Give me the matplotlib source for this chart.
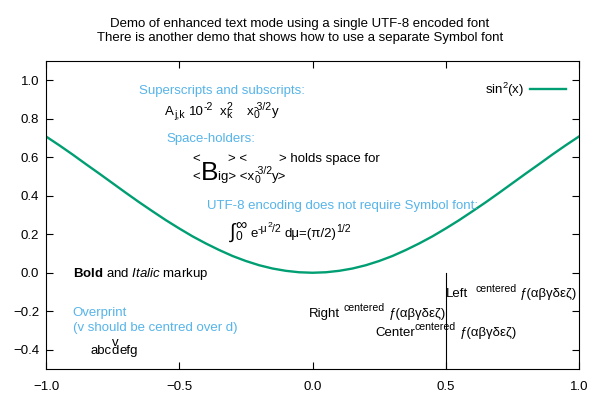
import matplotlib
matplotlib.use("Agg")
import matplotlib.pyplot as plt
from matplotlib.transforms import ScaledTranslation

plt.rcParams['font.family'] = ['Liberation Sans', 'DejaVu Sans']
plt.rcParams['mathtext.fontset'] = 'custom'
plt.rcParams['mathtext.rm'] = 'Liberation Sans'
plt.rcParams['mathtext.it'] = 'Liberation Sans:italic'
plt.rcParams['mathtext.bf'] = 'Liberation Sans:bold'
plt.rcParams['mathtext.default'] = 'regular'

# ---- data ----
x_vals = [-1.0, -0.95, -0.9, -0.85, -0.8, -0.75, -0.7, -0.65, -0.6, -0.55, -0.5,
          -0.45, -0.4, -0.35, -0.3, -0.25, -0.2, -0.15, -0.1, -0.05, 0.0,
          0.05, 0.1, 0.15, 0.2, 0.25, 0.3, 0.35, 0.4, 0.45, 0.5,
          0.55, 0.6, 0.65, 0.7, 0.75, 0.8, 0.85, 0.9, 0.95, 1.0]
y_vals = [0.708, 0.662, 0.614, 0.564, 0.515, 0.465, 0.415, 0.366, 0.319, 0.273, 0.230,
          0.189, 0.152, 0.118, 0.087, 0.061, 0.039, 0.022, 0.010, 0.0025, 0.0,
          0.0025, 0.010, 0.022, 0.039, 0.061, 0.087, 0.118, 0.152, 0.189, 0.230,
          0.273, 0.319, 0.366, 0.415, 0.465, 0.515, 0.564, 0.614, 0.662, 0.708]
series_label = "sin$^{2}$(x)"
x_ticks = [-1.0, -0.5, 0.0, 0.5, 1.0]
y_ticks = [-0.4, -0.2, 0.0, 0.2, 0.4, 0.6, 0.8, 1.0]
title_text = ("Demo of enhanced text mode using a single UTF-8 encoded font\n"
              "There is another demo that shows how to use a separate Symbol font")
greek = "\u0192(\u03b1\u03b2\u03b3\u03b4\u03b5\u03b6)"

BLUE = '#56b4e9'
GREEN = '#009e73'
FS = 9.5
DPI = 100
EM = FS * DPI / 72.0  # px per em
SUP = 0.42   # superscript raise (em of base)
SUB = -0.2   # subscript drop (em of base)
S8 = 0.8

fig = plt.figure(figsize=(6, 4), dpi=DPI)
ax = fig.add_axes([46/600, 31/400, 533/600, 308/400])
ax.plot(x_vals, y_vals, color=GREEN, lw=1.7, label=series_label)
ax.set_xlim(-1, 1)
ax.set_ylim(-0.5, 1.1)
ax.set_xticks(x_ticks)
ax.set_yticks(y_ticks)
ax.tick_params(direction='in', length=5, width=0.8, top=True, right=True,
               labelsize=FS)
ax.tick_params(axis='y', pad=5)
ax.tick_params(axis='x', pad=8.5)
for s in ax.spines.values():
    s.set_linewidth(0.8)

ax.legend(loc='upper right', frameon=False, markerfirst=False,
          fontsize=FS, handlelength=2.75, handletextpad=0.45,
          borderaxespad=0.5, bbox_to_anchor=(0.998, 0.975))

fig.text(0.5, 1 - 41/400, title_text, ha='center', va='baseline',
         fontsize=FS, linespacing=1.25, multialignment='center')

renderer = fig.canvas.get_renderer()


def width_px(s, scale=1.0, **kw):
    t = fig.text(0, 0, s, fontsize=FS * scale, **kw)
    w = t.get_window_extent(renderer).width
    t.remove()
    return w


SPW = width_px("x x") - width_px("xx")   # width of one space


def rich(x, y, tokens, color='black', ha='left'):
    """tokens: ('t', s, scale, dy_em) text; ('o', [(s, scale, dy_em)]) overprint;
    ('p', [(s, scale)]) phantom (overprint max); ('g', n) n spaces;
    ('v', s, top, dy_em) top centred over s."""
    items = []
    pos = 0.0
    for tok in tokens:
        kind = tok[0]
        if kind == 't':
            s = tok[1]
            sc = tok[2] if len(tok) > 2 else 1.0
            dy = tok[3] if len(tok) > 3 else 0.0
            items.append((pos, dy * EM, s, sc))
            pos += width_px(s, sc)
        elif kind == 'o':
            wmax = 0
            for s, sc, dy in tok[1]:
                items.append((pos, dy * EM, s, sc))
                wmax = max(wmax, width_px(s, sc))
            pos += wmax
        elif kind == 'p':
            pos += max(width_px(s, sc) for s, sc in tok[1])
        elif kind == 'g':
            pos += tok[1] * SPW
        elif kind == 'v':
            s, top, dy = tok[1], tok[2], tok[3]
            w = width_px(s)
            wt = width_px(top)
            items.append((pos, 0.0, s, 1.0))
            items.append((pos + (w - wt) / 2, dy * EM, top, 1.0))
            pos += w
    shift = {'left': 0.0, 'right': -pos, 'center': -pos / 2}[ha]
    for dx, dy, s, sc in items:
        tr = ax.transData + ScaledTranslation((dx + shift) / DPI, dy / DPI,
                                              fig.dpi_scale_trans)
        ax.text(x, y, s, transform=tr, fontsize=FS * sc, color=color,
                ha='left', va='baseline')


def txt(x, y, s, **kw):
    kw.setdefault('fontsize', FS)
    kw.setdefault('va', 'baseline')
    return ax.text(x, y, s, **kw)


# Superscripts and subscripts
txt(-0.651, 0.929, "Superscripts and subscripts:", color=BLUE)
rich(-0.552, 0.819, [
    ('t', 'A'), ('t', 'j,k', S8, SUB), ('g', 1),
    ('t', '10'), ('t', '-2', S8, SUP), ('g', 2),
    ('t', 'x'), ('o', [('2', S8, SUP), ('k', S8, SUB)]), ('g', 4),
    ('t', 'x'), ('o', [('0', S8, SUB), ('-3/2', S8, SUP)]), ('t', 'y'),
])

# Space-holders
BIG = 2.0
txt(-0.547, 0.678, "Space-holders:", color=BLUE)
rich(-0.449, 0.577, [
    ('t', '<'), ('p', [('B', BIG)]), ('p', [('ig', 1.0)]), ('t', '> <'),
    ('p', [('x', 1.0)]), ('p', [('0', S8), ('-3/2', S8)]), ('p', [('y', 1.0)]),
    ('t', '> holds space for'),
])
rich(-0.449, 0.482, [
    ('t', '<'), ('t', 'B', BIG), ('t', 'ig> <x'),
    ('o', [('0', S8, SUB), ('-3/2', S8, SUP)]), ('t', 'y>'),
])

# UTF-8 / integral
txt(-0.397, 0.331, "UTF-8 encoding does not require Symbol font:", color=BLUE)
rich(-0.309, 0.184, [
    ('o', [('\u222B', 1.5, -0.05)]),
    ('o', [('0', 0.9, -0.2), ('\u221E', 1.2, 0.57)]),
    ('g', 1),
    ('t', 'e'), ('t', '-\u03bc', S8, SUP), ('t', '2', S8 * S8, SUP + SUP * S8),
    ('t', '/2', S8, SUP), ('g', 1),
    ('t', 'd\u03bc=(\u03c0/2)'), ('t', '1/2', S8, SUP),
])

# Bold / Italic
txt(-0.900, -0.024, r"$\mathbf{Bold}$ and $\mathit{Italic}$ markup")

# Overprint
txt(-0.900, -0.225, "Overprint", color=BLUE)
txt(-0.900, -0.301, "(v should be centred over d)", color=BLUE)
rich(-0.832, -0.424, [('t', 'abc'), ('v', 'd', 'v', 0.67), ('t', 'efg')])

# Justification
rich(0.5, -0.128, [('t', 'Left'), ('g', 2), ('t', 'centered', S8, SUP),
                   ('g', 1), ('t', greek)], ha='left')
rich(0.5, -0.228, [('t', 'Right'), ('g', 1), ('t', 'centered', S8, SUP),
                   ('g', 1), ('t', greek)], ha='right')
rich(0.5, -0.327, [('t', 'Center'), ('t', 'centered', S8, SUP),
                   ('g', 1), ('t', greek)], ha='center')
ax.plot([0.5, 0.5], [-0.5, 0.0], color='black', lw=0.8)

fig.savefig("out.png", dpi=DPI)
